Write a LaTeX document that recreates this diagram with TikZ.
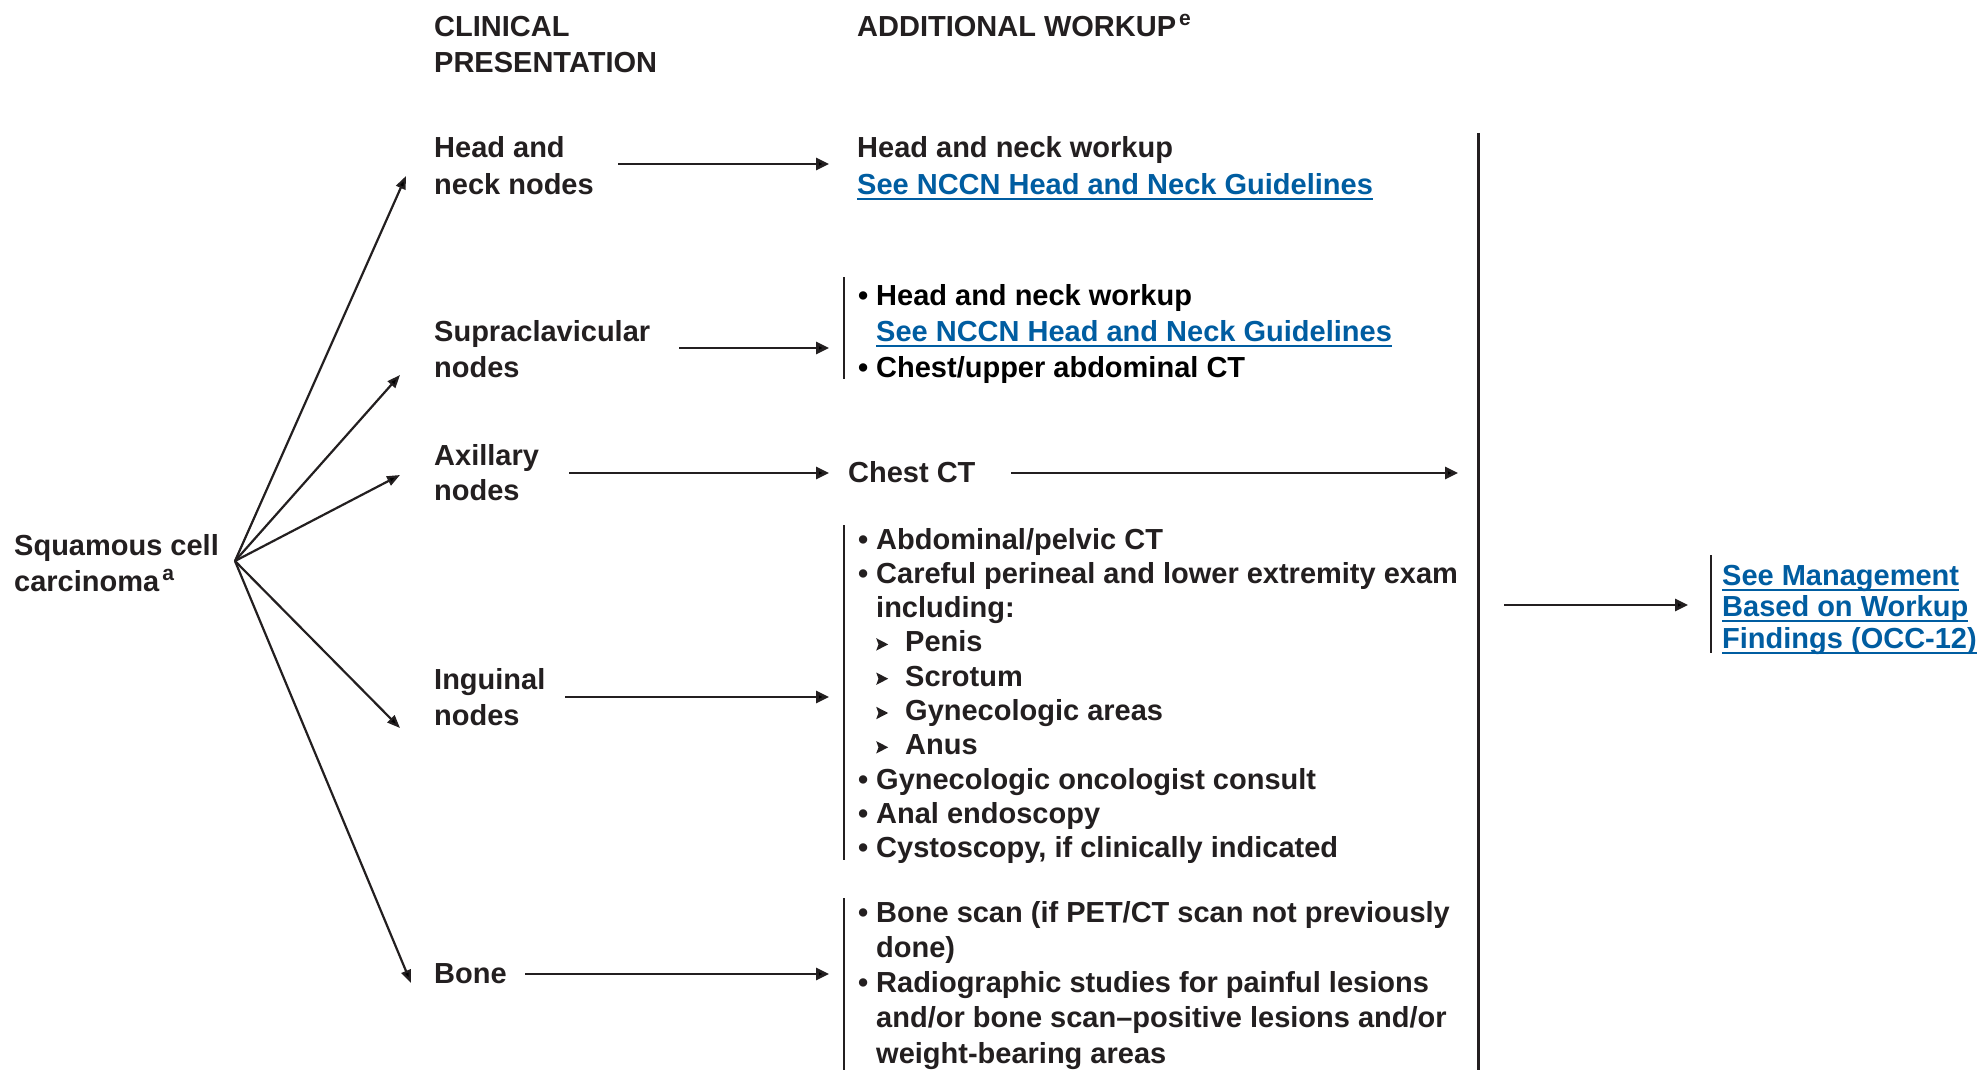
\documentclass[tikz,border=0pt]{standalone}
\usepackage{fontspec}
\setmainfont{Liberation Sans}
\usetikzlibrary{arrows.meta}
\definecolor{ink}{HTML}{231F20}
\definecolor{lnkblue}{RGB}{0,93,161}
\newcommand\lnk[1]{{\color{lnkblue}\setbox0\hbox{#1}\rlap{\rule[-5.5pt]{\wd0}{2pt}}\box0}}
\newcommand\bul{\makebox[18pt][l]{•}}
\newcommand\ind{\hspace*{18pt}}
\newcommand\supx[1]{\hspace{3pt}\raisebox{11pt}{\fontsize{21}{21}\selectfont #1}}
\newcommand\subarr{\makebox[29pt][l]{\tikz[baseline=0pt]\fill[ink] (-0.5pt,1.3pt) -- (11.5pt,7.5pt) -- (-0.5pt,13.7pt) -- (1.8pt,7.5pt) -- cycle;}}
\newcommand\ml[2][36]{{\fontsize{29}{#1}\selectfont\begin{tabular}[t]{@{}l@{}}#2\end{tabular}}}
\begin{document}
\begin{tikzpicture}[x=1pt,y=-1pt,
  txt/.style={font=\fontsize{29}{36}\selectfont\bfseries, text=ink, inner sep=0pt, anchor=base west},
  arr/.style={draw=ink, line width=2.8pt, -{Triangle[length=13pt,width=12pt]}},
  fan/.style={draw=ink, line width=2.2pt, -{Triangle[length=13pt,width=10pt]}},
  brk/.style={draw=ink, line width=2.2pt}]
\fill[white] (0,0) rectangle (1982,1070);
\useasboundingbox (0,0) rectangle (1982,1070);

% headers
\node[txt] (hdr1) at (434,37) {\ml{CLINICAL\\PRESENTATION}};
\node[txt] (hdr2) at (857,37) {ADDITIONAL WORKUP\supx{e}};

% left
\node[txt] (scc) at (14,555) {\ml{Squamous cell\\carcinoma\supx{a}}};

% clinical presentation
\node[txt] (hn)   at (434,158) {\ml{Head and\\neck nodes}};
\node[txt] (sup)  at (434,341) {\ml{Supraclavicular\\nodes}};
\node[txt] (axl)  at (434,465) {\ml[35]{Axillary\\nodes}};
\node[txt] (ing)  at (434,689) {\ml{Inguinal\\nodes}};
\node[txt] (bone) at (434,983) {Bone};

% workup
\node[txt] (hnw) at (857,158) {\ml{Head and neck workup\\\lnk{See NCCN Head and Neck Guidelines}}};
\node[txt] (supw) at (858,305) {\ml{{\color{black}\bul Head and neck workup}\\\ind\lnk{See NCCN Head and Neck Guidelines}\\{\color{black}\bul Chest/upper abdominal CT}}};
\node[txt] (chest) at (848,482) {Chest CT};
\node[txt] (ingw) at (858,549) {\ml[34.3]{\bul Abdominal/pelvic CT\\
\bul Careful perineal and lower extremity exam\\
\ind including:\\
\ind\subarr Penis\\
\ind\subarr Scrotum\\
\ind\subarr Gynecologic areas\\
\ind\subarr Anus\\
\bul Gynecologic oncologist consult\\
\bul Anal endoscopy\\
\bul Cystoscopy, if clinically indicated}};
\node[txt] (bonew) at (858,922) {\ml[35.3]{\bul Bone scan (if PET/CT scan not previously\\
\ind done)\\
\bul Radiographic studies for painful lesions\\
\ind and/or bone scan–positive lesions and/or\\
\ind weight-bearing areas}};
\node[txt] (mgmt) at (1722,585) {\ml[31.5]{\lnk{See Management}\\\lnk{Based on Workup}\\\lnk{Findings (OCC-12)}}};

% coordinates
\coordinate (o) at (235,561);
\coordinate (t1) at (406,176);
\coordinate (t2) at (400,375);
\coordinate (t3) at (400,475);
\coordinate (t4) at (400,728);
\coordinate (t5) at (411,983);
\coordinate (h1s) at (618,164); \coordinate (h1e) at (829,164);
\coordinate (h2s) at (679,348); \coordinate (h2e) at (829,348);
\coordinate (h3s) at (569,473); \coordinate (h3e) at (829,473);
\coordinate (h4s) at (565,697); \coordinate (h4e) at (829,697);
\coordinate (h5s) at (525,974); \coordinate (h5e) at (829,974);
\coordinate (cs) at (1011,473); \coordinate (ce) at (1458,473);
\coordinate (fs) at (1504,605); \coordinate (fe) at (1688,605);
\coordinate (vt) at (1478,133); \coordinate (vb) at (1478,1070);
\coordinate (b1t) at (844,277); \coordinate (b1b) at (844,379);
\coordinate (b2t) at (844,525); \coordinate (b2b) at (844,860);
\coordinate (b3t) at (844,898); \coordinate (b3b) at (844,1070);
\coordinate (b4t) at (1711,555); \coordinate (b4b) at (1711,653);

% fan
\draw[fan] (o) -- (t1);
\draw[fan] (o) -- (t2);
\draw[fan] (o) -- (t3);
\draw[fan] (o) -- (t4);
\draw[fan] (o) -- (t5);

% horizontal arrows
\draw[arr] (h1s) -- (h1e);
\draw[arr] (h2s) -- (h2e);
\draw[arr] (h3s) -- (h3e);
\draw[arr] (h4s) -- (h4e);
\draw[arr] (h5s) -- (h5e);
\draw[arr] (cs) -- (ce);
\draw[arr] (fs) -- (fe);

% brackets
\draw[brk, line width=3pt] (vt) -- (vb);
\draw[brk] (b1t) -- (b1b);
\draw[brk] (b2t) -- (b2b);
\draw[brk] (b3t) -- (b3b);
\draw[brk] (b4t) -- (b4b);
\end{tikzpicture}
\end{document}
